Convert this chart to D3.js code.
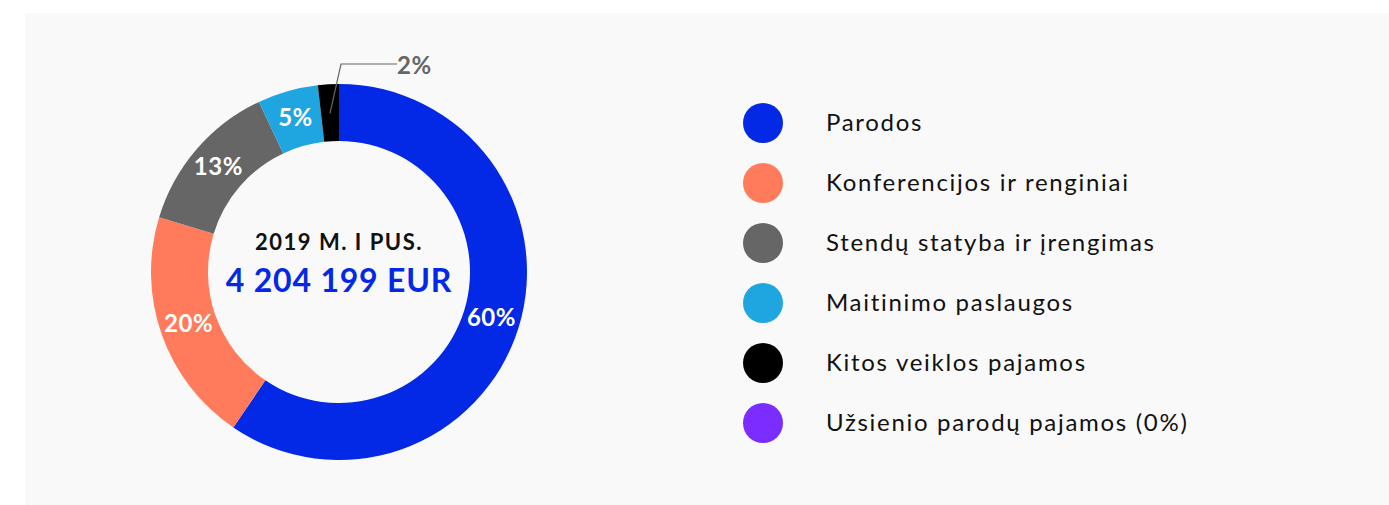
<!DOCTYPE html>
<html>
<head>
<meta charset="utf-8">
<script src="https://cdn.jsdelivr.net/npm/d3@7"></script>
<style>
  body { margin: 0; background: #fff; }
  svg { display: block; font-family: Lato, "Noto Sans", sans-serif; }
</style>
</head>
<body>
<svg id="chart" width="1389" height="505"></svg>
<script>
// data
let categories = ['Parodos', 'Konferencijos ir renginiai', 'Stendų statyba ir įrengimas',
    'Maitinimo paslaugos', 'Kitos veiklos pajamos', 'Užsienio parodų pajamos (0%)'];
let shares = [59.5, 20.2, 13.3, 5.2, 1.8, 0];
let shareLabels = ['60%', '20%', '13%', '5%', '2%', ''];
let colors = ['#0328e6', '#ff7b5c', '#666666', '#1fa6e0', '#000000', '#7b2cff'];
let titleText = '2019 M. I PUS.';
let totalText = '4 204 199 EUR';

let svg = d3.select('#chart');

// background panel
svg.append('rect')
    .attr('x', 25).attr('y', 13)
    .attr('width', 1364).attr('height', 492)
    .attr('fill', '#f9f9f9');

let cx = 339;
let cy = 272;
let outer = 188;
let inner = 131;

let pie = d3.pie().value(d => d).sort(null);
let pieData = pie(shares);

let arc = d3.arc().outerRadius(outer).innerRadius(inner);

let g = svg.append('g').attr('transform', 'translate(' + cx + ',' + cy + ')');

g.selectAll('.slice')
    .data(pieData)
    .join('path')
    .attr('class', 'slice')
    .attr('d', arc)
    .attr('fill', (d, i) => colors[i]);

// labels inside slices (big ones)
g.selectAll('.slice_label')
    .data(pieData.filter(d => d.data >= 4))
    .join('text')
    .attr('class', 'slice_label')
    .attr('transform', d => 'translate(' + arc.centroid(d) + ')')
    .attr('text-anchor', 'middle')
    .attr('dy', '0.3em')
    .attr('fill', '#fff')
    .attr('font-weight', 'bold')
    .attr('font-size', '24px')
    .style('letter-spacing', '0.5px')
    .text(d => shareLabels[d.index]);

// small slice label with leader line
let small = pieData[4];
let a = (small.startAngle + small.endAngle) / 2;
let p0 = [Math.sin(a) * (inner + 28), -Math.cos(a) * (inner + 28)];
let p1 = [2, -outer - 20];
let p2 = [58, -outer - 20];
g.append('path')
    .attr('d', d3.line()([p0, p1, p2]))
    .attr('fill', 'none')
    .attr('stroke', '#666')
    .attr('stroke-width', 1.2);
g.append('text')
    .attr('x', p2[0])
    .attr('y', p2[1] + 1)
    .attr('dy', '0.36em')
    .attr('fill', '#666')
    .attr('font-weight', 'bold')
    .attr('font-size', '24px')
    .style('letter-spacing', '0.5px')
    .text(shareLabels[4]);

// center texts
g.append('text')
    .attr('y', -30)
    .attr('dy', '0.36em')
    .attr('text-anchor', 'middle')
    .attr('font-weight', 'bold')
    .attr('font-size', '22px')
    .attr('fill', '#111')
    .style('letter-spacing', '1.5px')
    .text(titleText);
g.append('text')
    .attr('y', 8)
    .attr('dy', '0.36em')
    .attr('text-anchor', 'middle')
    .attr('font-weight', 'bold')
    .attr('font-size', '32px')
    .attr('fill', colors[0])
    .style('letter-spacing', '0.8px')
    .text(totalText);

// legend
let legendY = d3.scalePoint().domain(categories).range([123, 423]);
let legend = svg.selectAll('.legend_g')
    .data(categories)
    .join('g')
    .attr('class', 'legend_g')
    .attr('transform', d => 'translate(763,' + legendY(d) + ')');

legend.append('circle')
    .attr('r', 20)
    .attr('fill', (d, i) => colors[i]);

legend.append('text')
    .attr('x', 63)
    .attr('dy', '0.32em')
    .attr('font-size', '24px')
    .attr('fill', '#111')
    .style('letter-spacing', '1.7px')
    .text(d => d);
</script>
</body>
</html>
